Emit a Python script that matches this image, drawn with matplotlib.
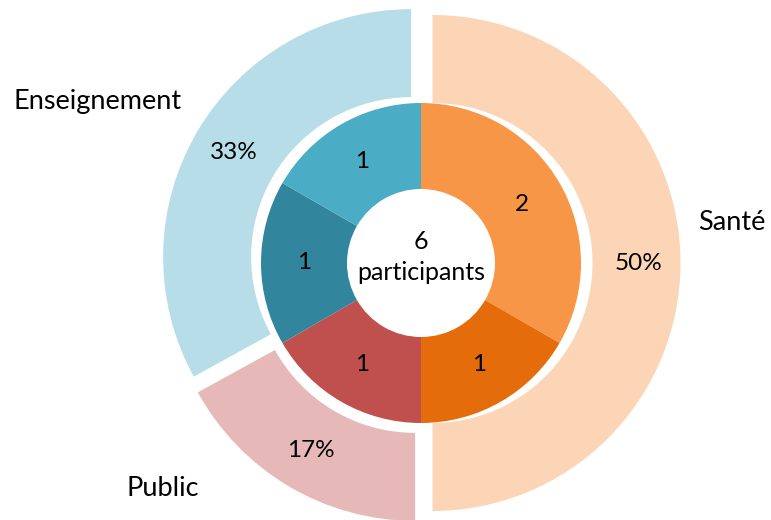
import matplotlib
matplotlib.use("Agg")
import matplotlib.pyplot as plt

# secteurs (anneau extérieur) et participants (anneau intérieur)
secteurs = ["Santé", "Public", "Enseignement"]
parts_secteurs = [50, 17, 33]
couleurs_secteurs = ["#FBD5B5", "#E6B9B8", "#B7DEE8"]

participants = [2, 1, 1, 1, 1]
couleurs_participants = ["#F79646", "#E46C0A", "#C0504D", "#31859C", "#4BACC6"]
total = sum(participants)

plt.rcParams['font.family'] = ['Lato', 'DejaVu Sans']

fig = plt.figure(figsize=(7.71, 5.2), dpi=100)
ax = fig.add_axes([0, 0, 1, 1])

cx, cy = 421, 257
r_out, r_mid, r_in = 248, 160, 74

ax.pie(parts_secteurs, colors=couleurs_secteurs, startangle=90,
       counterclock=False, center=(cx, cy), radius=r_out,
       explode=[11.5, 11.5, 11.5],
       autopct='%d%%', pctdistance=0.83,
       wedgeprops=dict(width=r_out - r_mid, linewidth=0),
       textprops=dict(fontsize=17.5, color='black'), frame=True)

ax.pie(participants, colors=couleurs_participants, startangle=90, counterclock=False,
       center=(cx, cy), radius=r_mid,
       autopct=lambda p: '%d' % round(p * total / 100.0), pctdistance=0.73,
       wedgeprops=dict(width=r_mid - r_in, linewidth=0),
       textprops=dict(fontsize=17.5, color='black'), frame=True)

ax.set_xlim(0, 771)
ax.set_ylim(0, 520)
ax.set_aspect('equal')
ax.axis('off')

ax.text(cx, cy + 6, "%d\nparticipants" % total, ha='center', va='center',
        fontsize=18, linespacing=1.45)

# étiquettes des secteurs, placées à l'extérieur
ax.text(98, 520 - 101, secteurs[2], ha='center', va='center', fontsize=19.5)
ax.text(732, 520 - 222, secteurs[0], ha='center', va='center', fontsize=19.5)
ax.text(163, 520 - 488, secteurs[1], ha='center', va='center', fontsize=19.5)

plt.savefig("out.png", dpi=100)
